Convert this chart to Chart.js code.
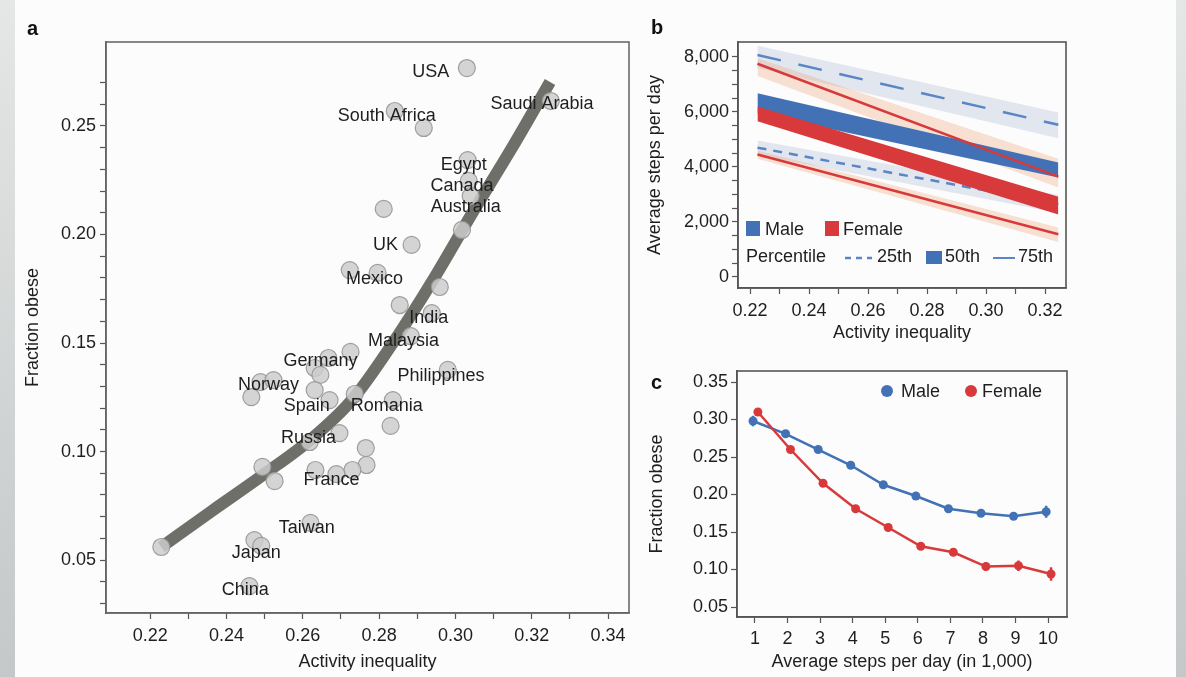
<!DOCTYPE html>
<html>
<head>
<meta charset="utf-8">
<script src="https://cdn.jsdelivr.net/npm/chart.js@4.4.1/dist/chart.umd.min.js"></script>
<style>
  html, body { margin: 0; padding: 0; }
  body { width: 1186px; height: 677px; position: relative; overflow: hidden;
         background: linear-gradient(#e5e6e6, #c4c8c8); font-family: "Liberation Sans", Arial, sans-serif; }
  #page { position: absolute; left: 15px; top: 0; width: 1161px; height: 677px; background: #fcfcfc; }
  canvas { position: absolute; }
  .tag { position: absolute; font: bold 20px "Liberation Sans Narrow", "Liberation Sans", Arial, sans-serif; color: #111; line-height: 1; }
</style>
</head>
<body>
<div id="page"></div>
<canvas id="chartA" width="640" height="677" style="left:0;top:0"></canvas>
<canvas id="chartB" width="450" height="345" style="left:640px;top:10px"></canvas>
<canvas id="chartC" width="450" height="322" style="left:640px;top:355px"></canvas>
<div class="tag" style="left:27px;top:18px">a</div>
<div class="tag" style="left:651px;top:17px">b</div>
<div class="tag" style="left:651px;top:372px">c</div>
<script>
// ---- panel a : countries ----
const countryX = [0.3030, 0.3250, 0.2841, 0.2917, 0.3032, 0.3035, 0.3040, 0.3017, 0.2812, 0.2885,
                  0.2723, 0.2796, 0.2959, 0.2854, 0.2938, 0.2883, 0.2725, 0.2667, 0.2631, 0.2646,
                  0.2980, 0.2489, 0.2523, 0.2465, 0.2631, 0.2670, 0.2736, 0.2836, 0.2830, 0.2696,
                  0.2618, 0.2765, 0.2767, 0.2730, 0.2494, 0.2526, 0.2633, 0.2688, 0.2620, 0.2473,
                  0.2491, 0.2460, 0.2229];
const countryY = [0.2767, 0.2615, 0.2569, 0.2491, 0.2343, 0.2247, 0.2177, 0.2021, 0.2118, 0.1952,
                  0.1836, 0.1823, 0.1758, 0.1675, 0.1638, 0.1532, 0.1459, 0.1431, 0.1385, 0.1353,
                  0.1376, 0.1320, 0.1329, 0.1251, 0.1283, 0.1237, 0.1265, 0.1237, 0.1118, 0.1085,
                  0.1044, 0.1016, 0.0938, 0.0915, 0.0929, 0.0864, 0.0915, 0.0896, 0.0671, 0.0592,
                  0.0565, 0.0380, 0.0560];
const fitX = [0.2229, 0.2363, 0.2494, 0.2625, 0.2730, 0.2836, 0.2941, 0.3046, 0.3151, 0.3248];
const fitY = [0.0560, 0.0728, 0.0890, 0.1062, 0.1240, 0.1500, 0.1790, 0.2104, 0.2408, 0.2703];
const labelNames = ['USA', 'Saudi Arabia', 'South Africa', 'Egypt', 'Canada', 'Australia', 'UK', 'Mexico',
                    'India', 'Malaysia', 'Germany', 'Norway', 'Philippines', 'Spain', 'Romania', 'Russia',
                    'France', 'Taiwan', 'Japan', 'China'];
const labelX = [0.2935, 0.3227, 0.2820, 0.3022, 0.3017, 0.3027, 0.2817, 0.2788, 0.2930, 0.2864,
                0.2646, 0.2510, 0.2962, 0.2610, 0.2820, 0.2615, 0.2675, 0.2610, 0.2478, 0.2449];
const labelY = [0.2749, 0.2601, 0.2546, 0.2320, 0.2224, 0.2127, 0.1952, 0.1795, 0.1615, 0.1509,
                0.1417, 0.1306, 0.1348, 0.1210, 0.1210, 0.1062, 0.0869, 0.0647, 0.0532, 0.0362];
const aTicksX = [0.22, 0.23, 0.24, 0.25, 0.26, 0.27, 0.28, 0.29, 0.30, 0.31, 0.32, 0.33, 0.34];
const aTicksY = [0.03, 0.04, 0.05, 0.06, 0.07, 0.08, 0.09, 0.10, 0.11, 0.12, 0.13, 0.14, 0.15,
                 0.16, 0.17, 0.18, 0.19, 0.20, 0.21, 0.22, 0.23, 0.24, 0.25, 0.26, 0.27];

// ---- panel b : steps vs inequality (line ends) ----
const bEnds = [0.2225, 0.3245];
const male75 = [8070, 5530], male75Hi = [8400, 5980], male75Lo = [7600, 5040];
const male50Hi = [6680, 4160], male50Lo = [5940, 3620];
const male25 = [4700, 2650], male25Hi = [4960, 2980], male25Lo = [4440, 2330];
const fem75 = [7750, 3650], fem75Hi = [7950, 4300], fem75Lo = [7300, 3250];
const fem50Hi = [6200, 2920], fem50Lo = [5660, 2270];
const fem25 = [4450, 1555], fem25Hi = [4600, 1800], fem25Lo = [4300, 1270];
const bTicksX = [0.22, 0.23, 0.24, 0.25, 0.26, 0.27, 0.28, 0.29, 0.30, 0.31, 0.32];
const bTicksY = [0, 500, 1000, 1500, 2000, 2500, 3000, 3500, 4000, 4500, 5000, 5500, 6000, 6500, 7000, 7500, 8000];

// ---- panel c : obesity vs steps ----
const cMaleX = [0.94, 1.94, 2.94, 3.94, 4.94, 5.94, 6.94, 7.94, 8.94, 9.94];
const cMaleY = [0.298, 0.281, 0.260, 0.239, 0.213, 0.198, 0.181, 0.175, 0.171, 0.177];
const cMaleErr = [0.007, 0.004, 0.003, 0.003, 0.003, 0.003, 0.004, 0.004, 0.005, 0.008];
const cFemX = [1.09, 2.09, 3.09, 4.09, 5.09, 6.09, 7.09, 8.09, 9.09, 10.09];
const cFemY = [0.310, 0.260, 0.215, 0.181, 0.156, 0.131, 0.123, 0.104, 0.105, 0.094];
const cFemErr = [0.005, 0.004, 0.003, 0.003, 0.004, 0.004, 0.005, 0.006, 0.007, 0.009];
const cTicksX = [1, 2, 3, 4, 5, 6, 7, 8, 9, 10];
const cTicksY = [0.05, 0.10, 0.15, 0.20, 0.25, 0.30, 0.35];

const INK = '#1e1e1e';
const AXIS = '#555';
const FONT = '"Liberation Sans", Arial, Helvetica, sans-serif';
const BLUE = '#4272b5';
const RED = '#d8393a';

Chart.defaults.font.family = FONT;
Chart.defaults.font.size = 18;
Chart.defaults.color = INK;

function axis(o) {
  return {
    type: 'linear',
    position: o.pos,
    min: o.min,
    max: o.max,
    afterBuildTicks: s => { s.ticks = o.ticks.map(v => ({ value: v })); },
    afterFit: s => { if (o.pos === 'left') s.width = o.size; else s.height = o.size; },
    ticks: { autoSkip: false, maxRotation: 0, padding: o.pad, color: INK, callback: o.fmt },
    grid: { drawOnChartArea: false, drawTicks: true, tickLength: 6, tickColor: AXIS, tickWidth: 1.2 },
    border: { display: true, color: AXIS, width: 1.5 },
    title: { display: true, text: o.title, color: INK, padding: o.tpad }
  };
}

function frame(color) {
  return {
    id: 'frame',
    afterDraw(chart) {
      const { ctx, chartArea: a } = chart;
      ctx.save();
      ctx.strokeStyle = color;
      ctx.lineWidth = 1.6;
      ctx.strokeRect(a.left, a.top, a.right - a.left, a.bottom - a.top);
      ctx.restore();
    }
  };
}

const pts = (xs, ys) => xs.map((x, i) => ({ x, y: ys[i] }));
const base = { responsive: false, animation: false, events: [] };

// ---------- a ----------
const countryLabels = {
  id: 'countryLabels',
  afterDatasetsDraw(chart) {
    const { ctx, scales: { x, y } } = chart;
    ctx.save();
    ctx.font = '18px ' + FONT;
    ctx.fillStyle = INK;
    ctx.textAlign = 'center';
    ctx.textBaseline = 'middle';
    labelNames.forEach((t, i) => ctx.fillText(t, x.getPixelForValue(labelX[i]), y.getPixelForValue(labelY[i])));
    ctx.restore();
  }
};

new Chart(document.getElementById('chartA'), {
  type: 'scatter',
  data: {
    datasets: [
      { data: pts(countryX, countryY), pointRadius: 8.5, pointBackgroundColor: 'rgba(204,204,204,0.85)',
        pointBorderColor: 'rgba(150,150,150,0.9)', pointBorderWidth: 1.2, order: 1 },
      { data: pts(fitX, fitY), showLine: true, borderColor: '#6e6f69', borderWidth: 12, pointRadius: 0,
        cubicInterpolationMode: 'monotone', fill: false, order: 2 }
    ]
  },
  options: {
    ...base,
    layout: { padding: { top: 42, right: 11, left: 0, bottom: 0 } },
    plugins: { legend: { display: false }, tooltip: { enabled: false } },
    scales: {
      x: axis({ pos: 'bottom', min: 0.2084, max: 0.3455, ticks: aTicksX, size: 64, pad: 6, tpad: { bottom: 4 },
                title: 'Activity inequality',
                fmt: v => Math.round(v * 100) % 2 === 0 ? v.toFixed(2) : '' }),
      y: axis({ pos: 'left', min: 0.0256, max: 0.2887, ticks: aTicksY, size: 106, pad: 4, tpad: { top: 22 },
                title: 'Fraction obese',
                fmt: v => Math.round(v * 100) % 5 === 0 ? v.toFixed(2) : '' })
    }
  },
  plugins: [countryLabels, frame('#6a6a6a')]
});

// ---------- b ----------
const bandB = 'rgba(170,186,212,0.33)';
const bandR = 'rgba(238,165,125,0.33)';
const edge = (ys, order) => ({ data: pts(bEnds, ys), showLine: true, borderWidth: 0, borderColor: 'rgba(0,0,0,0)',
                               pointRadius: 0, fill: false, order });
const band = (ys, color, order) => ({ data: pts(bEnds, ys), showLine: true, borderWidth: 0, borderColor: 'rgba(0,0,0,0)',
                                      pointRadius: 0, fill: '-1', backgroundColor: color, order });
const line = (ys, color, dash, order) => ({ data: pts(bEnds, ys), showLine: true, borderColor: color, borderWidth: 2.5,
                                          borderDash: dash, pointRadius: 0, fill: false, order });

const legendB = {
  id: 'legendB',
  afterDraw(chart) {
    const ctx = chart.ctx;
    ctx.save();
    ctx.font = '18px ' + FONT;
    ctx.textBaseline = 'middle';
    ctx.fillStyle = BLUE; ctx.fillRect(106, 211, 14, 15);
    ctx.fillStyle = RED; ctx.fillRect(185, 211, 14, 15);
    ctx.fillStyle = INK;
    ctx.fillText('Male', 125, 220);
    ctx.fillText('Female', 203, 220);
    ctx.fillText('Percentile', 106, 247);
    ctx.fillText('25th', 237, 247);
    ctx.fillText('50th', 305, 247);
    ctx.fillText('75th', 378, 247);
    ctx.fillStyle = BLUE; ctx.fillRect(286, 241, 16, 13);
    ctx.strokeStyle = '#5a86c4'; ctx.lineWidth = 2.5;
    ctx.setLineDash([6, 5]);
    ctx.beginPath(); ctx.moveTo(205, 248); ctx.lineTo(232, 248); ctx.stroke();
    ctx.setLineDash([]);
    ctx.lineWidth = 2;
    ctx.beginPath(); ctx.moveTo(353, 248); ctx.lineTo(375, 248); ctx.stroke();
    ctx.restore();
  }
};

new Chart(document.getElementById('chartB'), {
  type: 'scatter',
  data: {
    datasets: [
      edge(male75Hi, 20), band(male75Lo, bandB, 20),
      edge(male25Hi, 20), band(male25Lo, bandB, 20),
      edge(fem75Hi, 19), band(fem75Lo, bandR, 19),
      edge(fem25Hi, 19), band(fem25Lo, bandR, 19),
      line(male75, '#5a86c4', [24, 18], 8),
      line(male25, '#5a86c4', [9, 7], 8),
      edge(male50Hi, 6), band(male50Lo, BLUE, 6),
      line(fem75, RED, [], 4),
      line(fem25, RED, [], 4),
      edge(fem50Hi, 2), band(fem50Lo, RED, 2)
    ]
  },
  options: {
    ...base,
    elements: { line: { tension: 0 } },
    layout: { padding: { top: 32, right: 24, left: 0, bottom: 0 } },
    plugins: { legend: { display: false }, tooltip: { enabled: false }, filler: { propagate: false } },
    scales: {
      x: axis({ pos: 'bottom', min: 0.2159, max: 0.3271, ticks: bTicksX, size: 67, pad: 6, tpad: { bottom: 11 },
                title: 'Activity inequality',
                fmt: v => Math.round(v * 100) % 2 === 0 ? v.toFixed(2) : '' }),
      y: axis({ pos: 'left', min: -400, max: 8540, ticks: bTicksY, size: 98, pad: 3, tpad: { top: 4 },
                title: 'Average steps per day',
                fmt: v => v % 2000 === 0 ? v.toLocaleString('en-US') : '' })
    }
  },
  plugins: [legendB, frame('#555')]
});

// ---------- c ----------
const errorBars = {
  id: 'errorBars',
  afterDatasetsDraw(chart) {
    const { ctx, scales: { x, y } } = chart;
    const sets = [[cMaleX, cMaleY, cMaleErr, BLUE], [cFemX, cFemY, cFemErr, RED]];
    ctx.save();
    ctx.lineWidth = 2.5;
    sets.forEach(([xs, ys, es, col]) => {
      ctx.strokeStyle = col;
      xs.forEach((xv, i) => {
        const px = x.getPixelForValue(xv);
        ctx.beginPath();
        ctx.moveTo(px, y.getPixelForValue(ys[i] - es[i]));
        ctx.lineTo(px, y.getPixelForValue(ys[i] + es[i]));
        ctx.stroke();
      });
    });
    ctx.restore();
  }
};

const legendC = {
  id: 'legendC',
  afterDraw(chart) {
    const ctx = chart.ctx;
    ctx.save();
    ctx.font = '18px ' + FONT;
    ctx.textBaseline = 'middle';
    ctx.fillStyle = BLUE;
    ctx.beginPath(); ctx.arc(247, 36, 6, 0, Math.PI * 2); ctx.fill();
    ctx.fillStyle = RED;
    ctx.beginPath(); ctx.arc(331, 36, 6, 0, Math.PI * 2); ctx.fill();
    ctx.fillStyle = INK;
    ctx.fillText('Male', 261, 37);
    ctx.fillText('Female', 342, 37);
    ctx.restore();
  }
};

new Chart(document.getElementById('chartC'), {
  type: 'scatter',
  data: {
    datasets: [
      { data: pts(cFemX, cFemY), showLine: true, borderColor: RED, borderWidth: 2.5, pointRadius: 4.5,
        pointBackgroundColor: RED, pointBorderWidth: 0, tension: 0, order: 1 },
      { data: pts(cMaleX, cMaleY), showLine: true, borderColor: BLUE, borderWidth: 2.5, pointRadius: 4.5,
        pointBackgroundColor: BLUE, pointBorderWidth: 0, tension: 0, order: 2 }
    ]
  },
  options: {
    ...base,
    layout: { padding: { top: 16, right: 23, left: 0, bottom: 0 } },
    plugins: { legend: { display: false }, tooltip: { enabled: false } },
    scales: {
      x: axis({ pos: 'bottom', min: 0.448, max: 10.58, ticks: cTicksX, size: 60, pad: 5, tpad: { bottom: 4 },
                title: 'Average steps per day (in 1,000)', fmt: v => String(v) }),
      y: axis({ pos: 'left', min: 0.0367, max: 0.3647, ticks: cTicksY, size: 97, pad: 3, tpad: { top: 6 },
                title: 'Fraction obese', fmt: v => v.toFixed(2) })
    }
  },
  plugins: [errorBars, legendC, frame('#555')]
});
</script>
</body>
</html>
